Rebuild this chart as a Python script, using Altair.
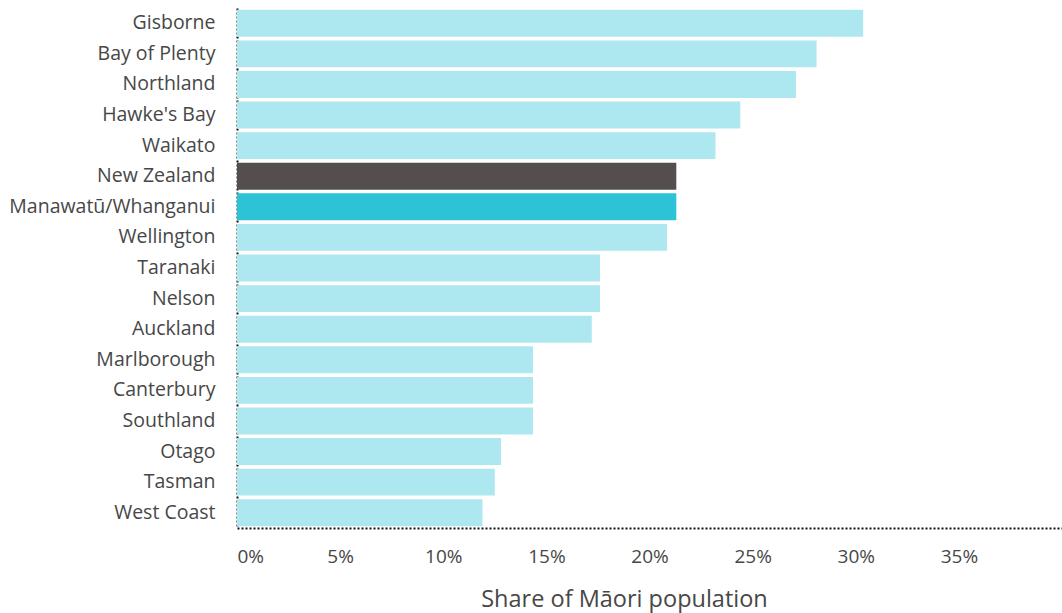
import altair as alt
import pandas as pd

regions = ["Gisborne", "Bay of Plenty", "Northland", "Hawke's Bay", "Waikato",
           "New Zealand", "Manawatū/Whanganui", "Wellington", "Taranaki", "Nelson",
           "Auckland", "Marlborough", "Canterbury", "Southland", "Otago", "Tasman",
           "West Coast"]
shares = [0.3036, 0.281, 0.271, 0.244, 0.232, 0.213, 0.213, 0.2085, 0.176, 0.176,
          0.172, 0.1435, 0.1435, 0.1435, 0.128, 0.125, 0.119]
groups = ["Region"] * 5 + ["New Zealand", "Manawatū/Whanganui"] + ["Region"] * 10

df = pd.DataFrame({"region": regions, "share": shares, "group": groups})

FONT = "Open Sans"
TEXT = "#474747"

chart = alt.Chart(df).mark_bar().encode(
    x=alt.X("share:Q",
            scale=alt.Scale(domain=[0, 0.4], nice=False),
            axis=alt.Axis(format=".0%", values=[0, 0.05, 0.1, 0.15, 0.2, 0.25, 0.3, 0.35],
                          title="Share of Māori population", grid=False, ticks=False,
                          domainDash=[2, 2], domainColor="#111", domainWidth=2,
                          labelFlush=True, labelPadding=19, labelFontSize=19,
                          labelColor=TEXT, labelFont=FONT,
                          titleFontSize=23.5, titleFont=FONT, titleColor=TEXT,
                          titleFontWeight="normal", titlePadding=21, titleX=387)),
    y=alt.Y("region:N", sort=regions,
            scale=alt.Scale(paddingInner=0.12, paddingOuter=0.06),
            axis=alt.Axis(title=None, ticks=False, domainDash=[2, 2],
                          domainColor="#111", domainWidth=2, labelPadding=22,
                          labelLimit=400,
                          labelFontSize=19.5, labelColor=TEXT, labelFont=FONT)),
    color=alt.Color("group:N",
                    scale=alt.Scale(domain=["Region", "New Zealand", "Manawatū/Whanganui"],
                                    range=["#ade7ef", "#544e4f", "#2dc3d6"]),
                    legend=None),
).properties(
    width=825, height=520,
    background="white",
    autosize=alt.AutoSizeParams(type="none"),
    padding={"left": 237, "top": 8, "right": 0, "bottom": 85},
).configure_view(stroke=None)

chart.save("out.html", embed_options={"renderer": "svg", "actions": False})
